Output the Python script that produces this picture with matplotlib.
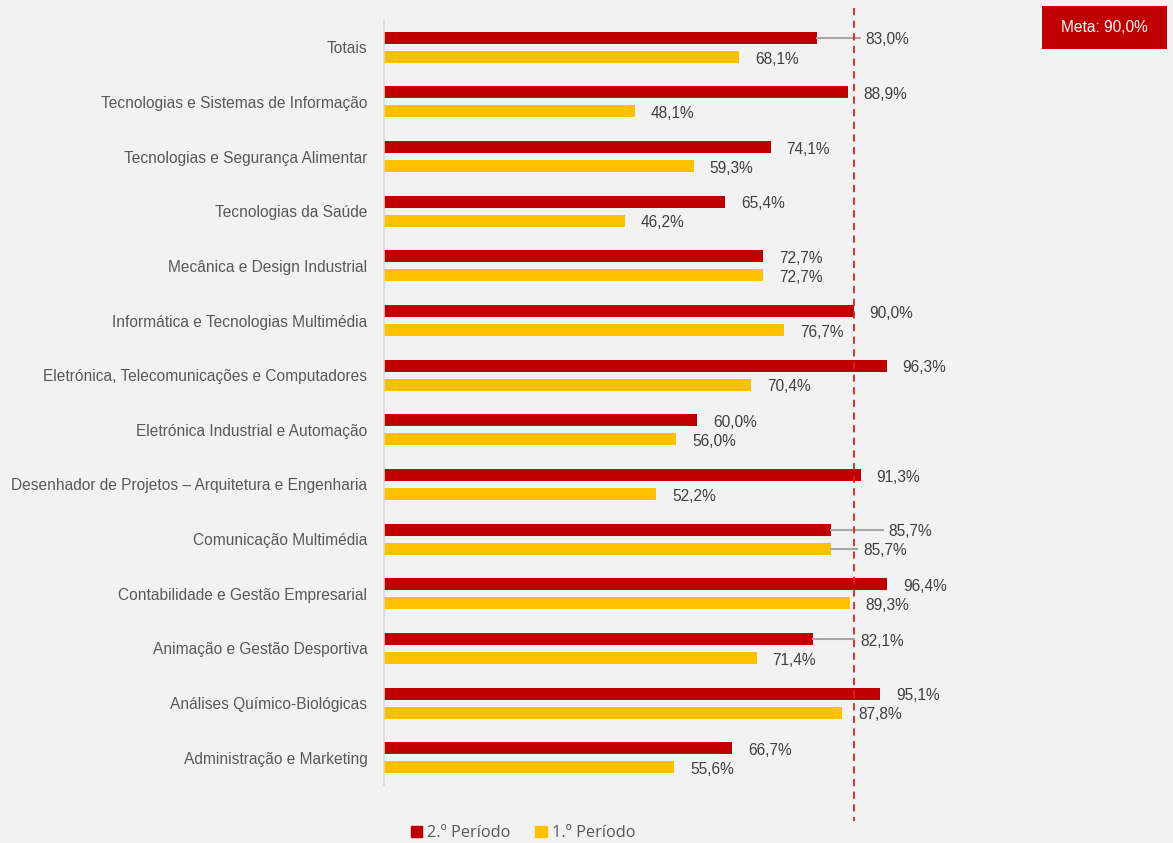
import matplotlib
matplotlib.use('Agg')
import matplotlib.pyplot as plt
from matplotlib.patches import Patch, Rectangle

cursos = ['Totais',
          'Tecnologias e Sistemas de Informação',
          'Tecnologias e Segurança Alimentar',
          'Tecnologias da Saúde',
          'Mecânica e Design Industrial',
          'Informática e Tecnologias Multimédia',
          'Eletrónica, Telecomunicações e Computadores',
          'Eletrónica Industrial e Automação',
          'Desenhador de Projetos – Arquitetura e Engenharia',
          'Comunicação Multimédia',
          'Contabilidade e Gestão Empresarial',
          'Animação e Gestão Desportiva',
          'Análises Químico-Biológicas',
          'Administração e Marketing']
periodo2 = [83.0, 88.9, 74.1, 65.4, 72.7, 90.0, 96.3, 60.0, 91.3, 85.7, 96.4, 82.1, 95.1, 66.7]
periodo1 = [68.1, 48.1, 59.3, 46.2, 72.7, 76.7, 70.4, 56.0, 52.2, 85.7, 89.3, 71.4, 87.8, 55.6]
meta = 90.0

RED = '#C00000'
YEL = '#FFC000'
BG = '#F2F2F2'
TXT = '#404040'
plt.rcParams['font.family'] = ['Liberation Sans', 'DejaVu Sans']

fig = plt.figure(figsize=(11.73, 8.43), dpi=100, facecolor=BG)
W, H = 1173, 843
# axes: x 384 -> 906 (0..100%), y 20 -> 785
ax = fig.add_axes([384 / W, 1 - 785 / H, (906 - 384) / W, (785 - 20) / H])
ax.set_facecolor(BG)

n = len(cursos)
y = list(range(n))
off = 0.174
h = 0.22
ax.barh([v - off for v in y], periodo2, height=h, color=RED)
ax.barh([v + off for v in y], periodo1, height=h, color=YEL)

ax.set_xlim(0, 100)
ax.set_ylim(n - 0.5, -0.5)
ax.set_yticks(y)
ax.set_yticklabels(cursos, fontsize=11.2, color='#595959')
ax.tick_params(axis='y', length=0, pad=12)
ax.set_xticks([])
for s in ['top', 'right', 'bottom']:
    ax.spines[s].set_visible(False)
ax.spines['left'].set_color('#D9D9D9')
ax.spines['left'].set_linewidth(1.2)

# labels moved off the bar end (with leader line): (row, serie) -> label x
moved = {(0, 2): 92.3, (9, 2): 96.7, (9, 1): 91.9, (11, 2): 91.3}

def fmt(v):
    return f'{v:.1f}%'.replace('.', ',')

for i in range(n):
    for serie, vals, dy in [(2, periodo2, -off), (1, periodo1, off)]:
        v = vals[i]
        if (i, serie) in moved:
            lx = moved[(i, serie)]
            ax.plot([v, lx - 1.2], [i + dy, i + dy], color='#A6A6A6', lw=1.5, zorder=1)
        else:
            lx = v + 3.0
        ax.text(lx, i + dy + 0.04, fmt(v), fontsize=11.2, color=TXT,
                va='center', ha='left', clip_on=False)

# meta line
ax.plot([meta, meta], [-0.72, 14.15], color='#E02020', lw=1.3,
        linestyle=(0, (4, 3)), clip_on=False, zorder=3)

# meta box
fig.add_artist(Rectangle((1042 / W, 1 - 49 / H), 125 / W, 43 / H,
                         transform=fig.transFigure, fc=RED, ec='none'))
fig.text(1104.5 / W, 1 - 28 / H, 'Meta: 90,0%', fontsize=11.2, color='white',
         ha='center', va='center')

handles = [Patch(color=RED, label='2.º Período'), Patch(color=YEL, label='1.º Período')]
leg = fig.legend(handles=handles, loc='center', bbox_to_anchor=(523 / W, 1 - 833 / H),
                 ncol=2, frameon=False, handlelength=0.7, handleheight=0.7,
                 handletextpad=0.3, columnspacing=1.5,
                 prop={'family': 'Open Sans', 'size': 11.8})
for t in leg.get_texts():
    t.set_color('#595959')

fig.savefig('out.png', dpi=100, facecolor=BG)
